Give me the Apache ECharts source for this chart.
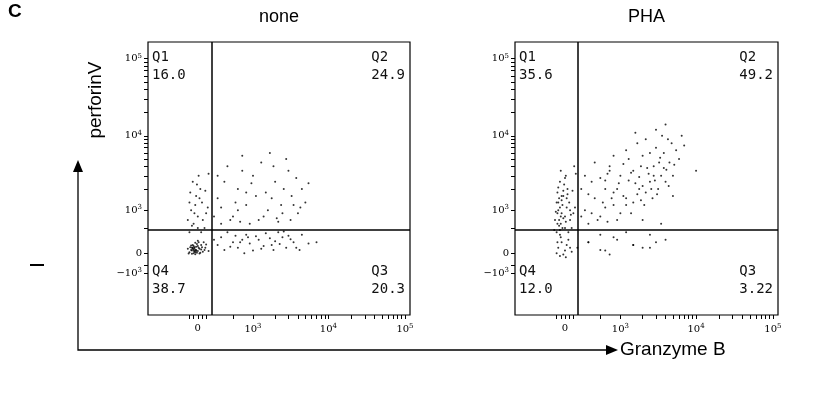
<!DOCTYPE html>
<html><head><meta charset="utf-8">
<script src="https://cdn.jsdelivr.net/npm/echarts@6/dist/echarts.min.js"></script>
<style>html,body{margin:0;padding:0;background:#fff}#c{width:813px;height:401px}</style>
</head><body><div id="c"></div>
<script>
const panelTitles = ["none", "PHA"];
const quadrantValues = [["16.0","24.9","20.3","38.7"],["35.6","49.2","3.22","12.0"]];
const xTickValues = [0, 1e3, 1e4, 1e5];
const xTickLabels = ["0", "10{s|3}", "10{s|4}", "10{s|5}"];
const yTickValues = [-1e3, 0, 1e3, 1e4, 1e5];
const yTickLabels = ["−10{s|3}", "0", "10{s|3}", "10{s|4}", "10{s|5}"];
const gates = [[170, 450], [145, 440]];
const nonePoints = [
[-80,60],[-40,90],[0,40],[-60,150],[-20,120],[20,80],[-100,20],[40,150],[-50,0],[10,200],[-30,-40],[60,30],[-90,110],[30,10],[-10,170],[-70,-20],[50,110],[80,60],[-120,80],[0,130],[-40,30],[20,-10],[-20,60],[100,160],[-60,100],[130,40],[-10,10],[40,70],[-80,140],[0,230],[90,100],[-30,190],[70,200],[-110,-10],[10,100],
[-70,50],[-50,70],[-30,20],[-60,80],[-40,110],[-20,40],[-50,130],[-30,60],[-70,100],[-45,45],
[-100,400],[-50,600],[0,800],[-80,1000],[50,1300],[-20,1600],[-120,700],[80,500],[30,2000],[-60,2500],[100,900],[-30,1200],[10,3000],[-90,1800],[60,700],[0,500],[-40,900],[120,1100],[-70,550],[20,1500],[-10,2300],[90,1900],[-100,1300],[40,400],[130,3200],
[300,600],[500,800],[800,1200],[1200,700],[1800,1500],[2500,900],[3500,1200],[600,2000],[1000,3000],[400,4000],[700,5500],[2000,2500],[3000,3500],[4500,2000],[250,1500],[1500,1800],[900,600],[2200,650],[600,1000],[350,2500],[1300,4500],[2800,5000],[3800,2800],[5000,1300],[450,700],[1100,1600],[1600,1000],[2400,1200],[700,3500],[200,800],[3200,700],[4000,900],[250,3000],[1700,6000],[800,1800],[5500,2400],[1400,800],[2600,2000],[550,1300],[950,2400],[3300,1600],[4300,1100],[300,1100],[1900,4000],[650,650],[2100,750],
[300,300],[500,200],[800,350],[1200,250],[1800,150],[2500,300],[3500,200],[4500,350],[600,100],[1000,50],[1500,380],[2000,220],[2800,100],[400,400],[700,250],[900,180],[1100,320],[1400,130],[1700,280],[2200,400],[3000,330],[250,150],[350,60],[550,330],[650,200],[2600,420],[3800,100],[5500,180],[7000,200],[750,0],[1300,80],[1900,60],[450,120],[850,300],[2300,170],[3200,260],[4200,60],[200,250]];
const phaPoints = [
[-100,400],[-50,600],[0,800],[-80,1000],[50,1300],[-20,1600],[-120,700],[80,500],[30,2000],[-60,2500],[100,900],[-30,1200],[10,3000],[-90,1800],[60,700],[0,500],[-40,900],[120,1100],[-70,550],[20,1500],[-10,2300],[90,1900],[-100,1300],[40,400],[130,3200],[-130,450],[-60,350],[10,650],[-20,750],[70,850],[-110,950],[-40,1400],[30,1700],[-80,2100],[0,2800],[110,4000],[-50,3500],[60,1000],[-90,600],[20,1100],
[-70,700],[-60,1100],[-50,800],[-40,1600],[-80,1300],[-30,500],[-90,900],[-20,1900],[-60,450],[-70,1500],
[-80,100],[-40,200],[0,50],[-60,-100],[20,150],[-100,0],[40,250],[-20,-50],[60,100],[-50,300],[10,-150],[-90,200],[80,30],[150,100],[300,200],[500,60],[900,250],[1500,150],[2500,100],[700,-50],
[300,600],[500,800],[800,1200],[1200,1500],[1800,2000],[2500,2500],[3500,3000],[600,2000],[1000,3000],[400,1500],[700,4000],[2000,5500],[3000,7000],[4500,4500],[250,1000],[1500,3500],[900,700],[2200,1800],[600,1100],[350,2500],[1300,5000],[2800,4000],[3800,6000],[5000,3000],[450,700],[1100,1600],[1600,2400],[2400,3200],[700,3500],[200,800],[3200,2000],[4000,2500],[250,3000],[1700,8000],[800,1800],[5500,6500],[1400,900],[2600,2000],[550,1300],[950,2400],[3300,4500],[4300,9000],[300,1700],[1900,4000],[650,650],[2100,1200],[3000,12000],[3600,10000],[4800,8000],[6000,5000],[7000,7500],[10000,3500],[2200,9000],[1200,6500],[400,4500],[800,5500],[1500,1300],[2700,1500],[1000,900],[500,2800],[1800,2900],[2300,3800],[3400,5200],[4100,3600],[1100,4300],[650,3200],[350,900],[900,2000],[1300,2600],[1700,1700],[2900,2600],[5200,4200],[6500,10000],[4000,14000],[1600,11000],[2500,6000],[750,1500],[1400,3300],[2000,2200],[2800,3000],[3800,3800],[200,2000],[600,2600],[1200,1200],[1900,1400],[3100,1700],[4400,2200],[5000,1600],[3500,600],[2000,700],
[300,200],[800,300],[1500,150],[2500,350],[4000,250],[600,50],[1200,400],[2000,100],[3000,200],[500,350]];
const panels = [nonePoints, phaPoints];

const L10 = Math.LN10;
const fx = v => Math.asinh(v / 395) / L10;
const fy = v => v >= 0 ? Math.asinh(v / 600) / L10 : 0.47 * Math.asinh(v / 600) / L10;
const minorY = [];
[1e3, 1e4].forEach(d => { for (let k = 1; k <= 10; k++) minorY.push(fy(d * k)); });
minorY.push(fy(-1000), 0, fy(-500), fy(500));
const minorX = [];
[1e3, 1e4].forEach(d => { for (let k = 1; k <= 10; k++) minorX.push(fx(d * k)); });
minorX.push(0, fx(-100), fx(-50), fx(50), fx(100), fx(500));

const lefts = [148, 515], widths = [262, 263];
const rich = { s: { fontSize: 7, verticalAlign: 'top', padding: [0, 0, 6, 0], fontFamily: 'DejaVu Serif' } };
const lab = (vals, labels, f) => (v) => { let bi = 0, bd = 1e9; vals.forEach((t, i) => { const d = Math.abs(f(t) - v); if (d < bd) { bd = d; bi = i; } }); return labels[bi]; };

const grid = [], xAxis = [], yAxis = [], series = [], graphic = [];
panels.forEach((pts, i) => {
  grid.push({ left: lefts[i], top: 42, width: widths[i], height: 273, show: true, borderColor: '#000', borderWidth: 1.2 });
  xAxis.push({ gridIndex: i, type: 'value', min: -0.65, max: 2.77, splitLine: { show: false },
    axisLine: { show: false, onZero: false },
    axisTick: { customValues: minorX, length: 4, lineStyle: { color: '#000' } },
    axisLabel: { customValues: xTickValues.map(fx), formatter: lab(xTickValues, xTickLabels, fx), rich, color: '#000', fontSize: 10, fontFamily: 'DejaVu Serif', margin: 8 } });
  yAxis.push({ gridIndex: i, type: 'value', min: -0.8, max: 2.74, splitLine: { show: false },
    axisLine: { show: false, onZero: false },
    axisTick: { customValues: minorY, length: 4, lineStyle: { color: '#000' } },
    axisLabel: { customValues: yTickValues.map(fy), formatter: lab(yTickValues, yTickLabels, fy), rich, color: '#000', fontSize: 10, fontFamily: 'DejaVu Serif', margin: 6 } });
  series.push({ type: 'scatter', xAxisIndex: i, yAxisIndex: i, symbolSize: 2, itemStyle: { color: '#000' }, silent: true,
    data: pts.map(p => [fx(p[0]), fy(p[1])]),
    markLine: { silent: true, symbol: 'none', label: { show: false }, lineStyle: { color: '#000', width: 1.5, type: 'solid' },
      data: [{ xAxis: fx(gates[i][0]) }, { yAxis: fy(gates[i][1]) }] } });
  const l = lefts[i], r = lefts[i] + widths[i];
  const q = quadrantValues[i];
  const ts = { fontSize: 14, fontFamily: 'DejaVu Sans Mono', fill: '#111', lineHeight: 18 };
  graphic.push({ type: 'text', left: l + 4, top: 48, style: Object.assign({ text: 'Q1\n' + q[0] }, ts) });
  graphic.push({ type: 'text', right: 813 - r + 5, top: 48, style: Object.assign({ text: 'Q2\n' + q[1], align: 'right' }, ts) });
  graphic.push({ type: 'text', right: 813 - r + 5, top: 262, style: Object.assign({ text: 'Q3\n' + q[2], align: 'right' }, ts) });
  graphic.push({ type: 'text', left: l + 4, top: 262, style: Object.assign({ text: 'Q4\n' + q[3] }, ts) });
  graphic.push({ type: 'text', x: l + widths[i] / 2, y: 8, style: { text: panelTitles[i], fontSize: 18, fontFamily: 'Liberation Sans', fill: '#000', align: 'center' } });
});
graphic.push({ type: 'text', x: 8, y: 2, style: { text: 'C', fontSize: 19, fontWeight: 'bold', fontFamily: 'Liberation Sans', fill: '#000' } });
graphic.push({ type: 'line', shape: { x1: 30, y1: 265, x2: 44, y2: 265 }, style: { stroke: '#000', lineWidth: 2 } });
graphic.push({ type: 'polyline', shape: { points: [[78, 165], [78, 350], [610, 350]] }, style: { stroke: '#000', lineWidth: 1.3, fill: null } });
graphic.push({ type: 'polygon', shape: { points: [[73, 172], [83, 172], [78, 160]] }, style: { fill: '#000' } });
graphic.push({ type: 'polygon', shape: { points: [[606, 345], [606, 355], [618, 350]] }, style: { fill: '#000' } });
graphic.push({ type: 'text', x: 620, y: 340, style: { text: 'Granzyme B', fontSize: 19, fontFamily: 'Liberation Sans', fill: '#000' } });
graphic.push({ type: 'text', x: 86, y: 100, rotation: Math.PI / 2, style: { text: 'perforinV', fontSize: 19, fontFamily: 'Liberation Sans', fill: '#000', align: 'center', verticalAlign: 'top' } });

echarts.init(document.getElementById('c')).setOption({ animation: false, grid, xAxis, yAxis, series, graphic });
</script></body></html>
